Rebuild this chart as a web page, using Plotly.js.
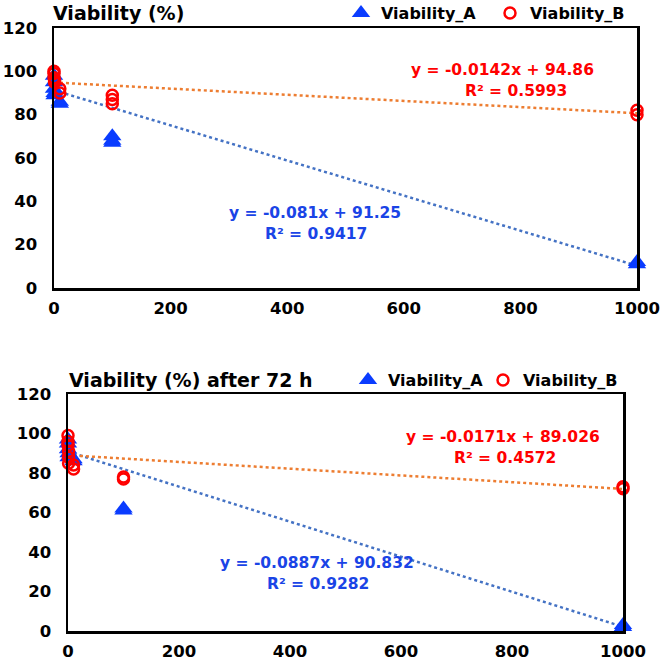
<!DOCTYPE html>
<html>
<head>
<meta charset="utf-8">
<script src="https://cdn.plot.ly/plotly-3.0.1.min.js"></script>
<style>html,body{margin:0;padding:0;background:#fff;}#chart{width:661px;height:664px;}</style>
</head>
<body>
<div id="chart"></div>
<script>
// ---- Data ----
const topAx = [0, 0, 0, 1, 1, 10, 10, 100, 100, 100, 1000, 1000];
const topAy = [98, 95, 92, 90, 89, 86, 85, 70, 68, 67, 12, 11];
const topBx = [0, 0, 0, 1, 1, 10, 10, 100, 100, 100, 1000, 1000];
const topBy = [100, 99, 97, 96, 95, 92, 90, 89, 87, 85, 82, 80];

const botAx = [0, 0, 0, 1, 1, 10, 10, 100, 100, 1000, 1000];
const botAy = [97, 95, 92, 90, 88, 87, 86, 62, 61, 3, 2];
const botBx = [0, 0, 0, 1, 1, 1, 10, 10, 100, 100, 1000, 1000];
const botBy = [99, 96, 94, 91, 88, 85, 84, 82, 78, 77, 73, 72];

// trendline coefficients [slope, intercept]
const topTrendA = [-0.081, 91.25];
const topTrendB = [-0.0142, 94.86];
const botTrendA = [-0.0887, 90.832];
const botTrendB = [-0.0171, 89.026];
const trendX = [0, 1000];

const topTitle = "Viability (%)";
const botTitle = "Viability (%) after 72 h";
const nameA = "Viability_A";
const nameB = "Viability_B";
const eqTopA = ["y = -0.081x + 91.25", "R² = 0.9417"];
const eqTopB = ["y = -0.0142x + 94.86", "R² = 0.5993"];
const eqBotA = ["y = -0.0887x + 90.832", "R² = 0.9282"];
const eqBotB = ["y = -0.0171x + 89.026", "R² = 0.4572"];
const xTicks = [0, 200, 400, 600, 800, 1000];
const yTicks = [0, 20, 40, 60, 80, 100, 120];

// ---- Styles ----
const FONT = "DejaVu Sans, Verdana, sans-serif";
const blue = "#0a3cff";
const red = "#ff0000";
const eqBlue = "#1a44e6";
const trendBlue = "#4472C4";
const trendOrange = "#ED7D31";
const markA = {symbol: "triangle-up", size: 16, color: blue};
const markB = {symbol: "circle-open", size: 11, color: red, line: {color: red, width: 2.5}};

function line(coef, xa, ya, color) {
  return {x: trendX, y: trendX.map(v => coef[0] * v + coef[1]), xaxis: xa, yaxis: ya,
    mode: "lines", line: {color: color, width: 2.5, dash: "dot"}, showlegend: false, hoverinfo: "skip"};
}

const traces = [
  line(topTrendA, "x", "y", trendBlue),
  line(topTrendB, "x", "y", trendOrange),
  {x: topAx, y: topAy, xaxis: "x", yaxis: "y", mode: "markers", name: nameA, marker: markA, cliponaxis: false, legend: "legend"},
  {x: topBx, y: topBy, xaxis: "x", yaxis: "y", mode: "markers", name: nameB, marker: markB, cliponaxis: false, legend: "legend"},
  line(botTrendA, "x2", "y2", trendBlue),
  line(botTrendB, "x2", "y2", trendOrange),
  {x: botAx, y: botAy, xaxis: "x2", yaxis: "y2", mode: "markers", name: nameA, marker: markA, cliponaxis: false, legend: "legend2"},
  {x: botBx, y: botBy, xaxis: "x2", yaxis: "y2", mode: "markers", name: nameB, marker: markB, cliponaxis: false, legend: "legend2"}
];

const W = 661, H = 664;
function px(v) { return v / W; }
function py(v) { return 1 - v / H; }

const tickFont = {family: FONT, size: 16.5, color: "#000", weight: "bold"};
function xax(dom, anchor) {
  return {domain: dom, anchor: anchor, range: [0, 1000], tickvals: xTicks, showgrid: false, zeroline: false,
    showline: true, mirror: true, linecolor: "#000", linewidth: 2.5, ticks: "", automargin: false,
    tickfont: tickFont, ticklabelstandoff: 4};
}
function yax(dom, anchor) {
  return {domain: dom, anchor: anchor, range: [0, 120], tickvals: yTicks, showgrid: false, zeroline: false,
    showline: true, mirror: true, linecolor: "#000", linewidth: 2.5, ticks: "", automargin: false,
    tickfont: tickFont, ticklabelstandoff: 11};
}

function ann(text, x, y, color) {
  return {text: text, xref: "paper", yref: "paper", x: px(x), y: py(y), xanchor: "center", yanchor: "middle",
    showarrow: false, font: {family: FONT, size: 15.5, color: color, weight: "bold"}};
}
function title(text, x, y) {
  return {text: text, xref: "paper", yref: "paper", x: px(x), y: py(y), xanchor: "left", yanchor: "middle",
    showarrow: false, font: {family: FONT, size: 19, color: "#000", weight: "bold"}};
}
const legFont = {family: FONT, size: 16, color: "#000", weight: "bold"};

const layout = {
  width: W, height: H, margin: {l: 0, r: 0, t: 0, b: 0, autoexpand: false},
  paper_bgcolor: "#fff", plot_bgcolor: "#fff",
  xaxis: xax([px(54), px(637)], "y"),
  yaxis: yax([py(288), py(28)], "x"),
  xaxis2: xax([px(68), px(623)], "y2"),
  yaxis2: yax([py(631), py(394)], "x2"),
  legend: {orientation: "h", x: px(341), y: py(13), xanchor: "left", yanchor: "middle",
    font: legFont, bgcolor: "rgba(0,0,0,0)", itemwidth: 30, traceorder: "normal", entrywidth: 104},
  legend2: {orientation: "h", x: px(348), y: py(380), xanchor: "left", yanchor: "middle",
    font: legFont, bgcolor: "rgba(0,0,0,0)", itemwidth: 30, traceorder: "normal", entrywidth: 90},
  annotations: [
    title(topTitle, 51, 13),
    title(botTitle, 67, 380),
    ann(eqTopB[0], 502, 70, red), ann(eqTopB[1], 516, 91, red),
    ann(eqTopA[0], 315, 213, eqBlue), ann(eqTopA[1], 316, 234, eqBlue),
    ann(eqBotB[0], 503, 437, red), ann(eqBotB[1], 505, 458, red),
    ann(eqBotA[0], 317, 563, eqBlue), ann(eqBotA[1], 318, 584, eqBlue)
  ],
  showlegend: true
};

Plotly.newPlot("chart", traces, layout, {displayModeBar: false, staticPlot: true});
</script>
</body>
</html>
